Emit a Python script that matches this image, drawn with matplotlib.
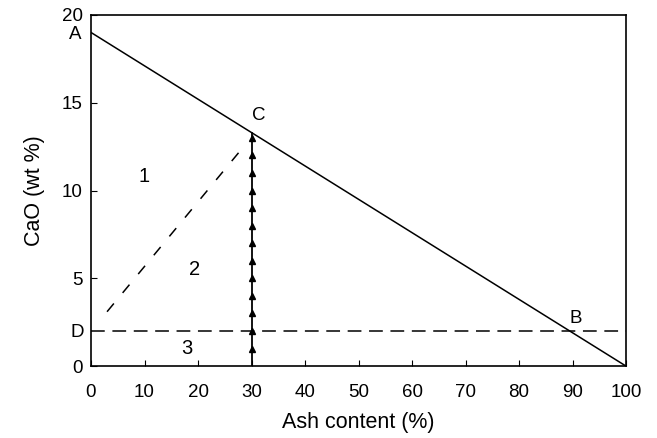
import numpy as np
import matplotlib.pyplot as plt

plt.rcParams['font.family'] = ['Liberation Sans', 'DejaVu Sans']

# 数据
line_ab_x = [0, 100]
line_ab_y = [19.0, 0.0]
line_d_x = [0, 100]
line_d_y = [2.0, 2.0]
curve_x = [3.0, 28.8]
curve_y = [3.1, 12.6]
vert_x = [30] * 14
vert_y = [0, 1, 2, 3, 4, 5, 6, 7, 8, 9, 10, 11, 12, 13]
vert_top = 13.3

fig = plt.figure(figsize=(6.57, 4.38), dpi=100)
ax = fig.add_axes([0.1385, 0.164, 0.8145, 0.802])

ax.plot(line_ab_x, line_ab_y, color='black', linewidth=1.1)
ax.plot(line_d_x, line_d_y, color='black', linewidth=1.1, dashes=(9, 5))
ax.plot(curve_x, curve_y, color='black', linewidth=1.1, dashes=(7, 9))
ax.plot([30, 30], [0, vert_top], color='black', linewidth=1.3)
ax.plot(vert_x[1:], vert_y[1:], linestyle='none', marker='^', markersize=5, color='black')

ax.set_xlim(0, 100)
ax.set_ylim(0, 20)
ax.set_xticks(range(0, 101, 10))
ax.set_yticks(range(0, 21, 5))
ax.tick_params(direction='in', length=4, labelsize=13.5, top=False, right=False, pad=6)
ax.tick_params(axis='x', pad=13)
for s in ax.spines.values():
    s.set_linewidth(1.2)

ax.set_xlabel('Ash content (%)', fontsize=15.5, labelpad=8)
ax.set_ylabel('CaO (wt %)', fontsize=15.5, labelpad=12)

# 标注
ax.text(-2.9, 18.9, 'A', fontsize=13.5, ha='center', va='center', clip_on=False)
ax.text(31.4, 14.3, 'C', fontsize=13.5, ha='center', va='center')
ax.text(90.6, 2.7, 'B', fontsize=13.5, ha='center', va='center')
ax.text(-2.6, 1.9, 'D', fontsize=13.5, ha='center', va='center', clip_on=False)
ax.text(9.9, 10.8, '1', fontsize=14.5, ha='center', va='center')
ax.text(19.4, 5.5, '2', fontsize=14.5, ha='center', va='center')
ax.text(18.0, 1.0, '3', fontsize=14.5, ha='center', va='center')

plt.savefig('out.png', dpi=100)
